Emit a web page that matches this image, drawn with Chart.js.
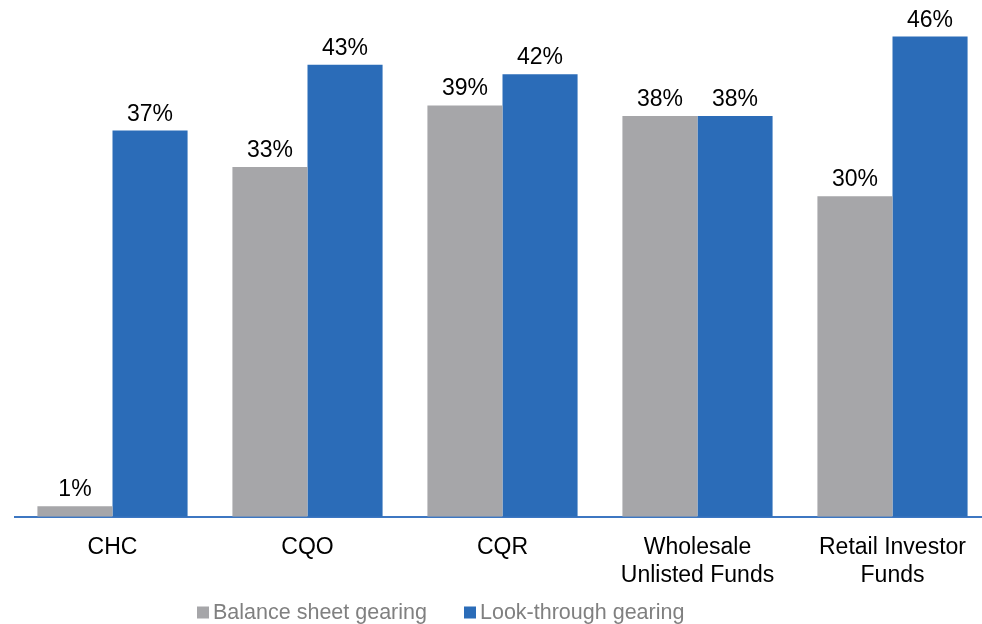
<!DOCTYPE html>
<html>
<head>
<meta charset="utf-8">
<script src="https://cdn.jsdelivr.net/npm/chart.js@4"></script>
<style>
  html, body { margin: 0; padding: 0; overflow: hidden; background: #fff; }
  #wrap { width: 995px; height: 624px; position: relative; }
</style>
</head>
<body>
<div id="wrap"><canvas id="c"></canvas></div>
<script>
const categories = ['CHC', 'CQO', 'CQR', ['Wholesale', 'Unlisted Funds'], ['Retail Investor', 'Funds']];
const seriesNames = ['Balance sheet gearing', 'Look-through gearing'];
const balanceSheet = [1.0, 33.5, 39.4, 38.4, 30.7];
const lookThrough = [37.0, 43.3, 42.4, 38.4, 46.0];
const balanceLabels = ['1%', '33%', '39%', '38%', '30%'];
const lookLabels = ['37%', '43%', '42%', '38%', '46%'];
const colors = ['#a6a6a9', '#2b6cb8'];

const FONT = '"Liberation Sans", Arial, sans-serif';

const valueLabels = {
  id: 'valueLabels',
  afterDatasetsDraw(chart) {
    const ctx = chart.ctx;
    const texts = [balanceLabels, lookLabels];
    ctx.save();
    ctx.font = '23px ' + FONT;
    ctx.fillStyle = '#000';
    ctx.textAlign = 'center';
    ctx.textBaseline = 'alphabetic';
    chart.data.datasets.forEach((ds, i) => {
      chart.getDatasetMeta(i).data.forEach((bar, j) => {
        ctx.fillText(texts[i][j], bar.x, bar.y - 10);
      });
    });
    ctx.restore();
  }
};

const customLegend = {
  id: 'customLegend',
  afterDraw(chart) {
    const ctx = chart.ctx;
    ctx.save();
    ctx.font = '21.5px ' + FONT;
    ctx.textBaseline = 'middle';
    ctx.textAlign = 'left';
    const y = 612;
    const starts = [197, 464];
    chart.data.datasets.forEach((ds, i) => {
      ctx.fillStyle = ds.backgroundColor;
      ctx.fillRect(starts[i], y - 5.5, 12, 12);
      ctx.fillStyle = '#808080';
      ctx.fillText(ds.label, starts[i] + 16, y + 1);
    });
    ctx.restore();
  }
};

new Chart(document.getElementById('c'), {
  type: 'bar',
  data: {
    labels: categories,
    datasets: [
      { label: seriesNames[0], data: balanceSheet, backgroundColor: colors[0] },
      { label: seriesNames[1], data: lookThrough, backgroundColor: colors[1] }
    ]
  },
  options: {
    responsive: true,
    maintainAspectRatio: false,
    animation: false,
    layout: { padding: { left: 15, right: 5, top: 0, bottom: 18 } },
    datasets: { bar: { categoryPercentage: 0.77, barPercentage: 1.0 } },
    plugins: { legend: { display: false }, tooltip: { enabled: false } },
    scales: {
      y: { display: false, min: 0, max: 49.5 },
      x: {
        grid: { display: false, drawTicks: false },
        border: { display: true, color: '#3d77c2', width: 2 },
        ticks: { color: '#000', font: { size: 23, family: FONT }, padding: 17, maxRotation: 0, autoSkip: false }
      }
    }
  },
  plugins: [valueLabels, customLegend]
});
</script>
</body>
</html>
